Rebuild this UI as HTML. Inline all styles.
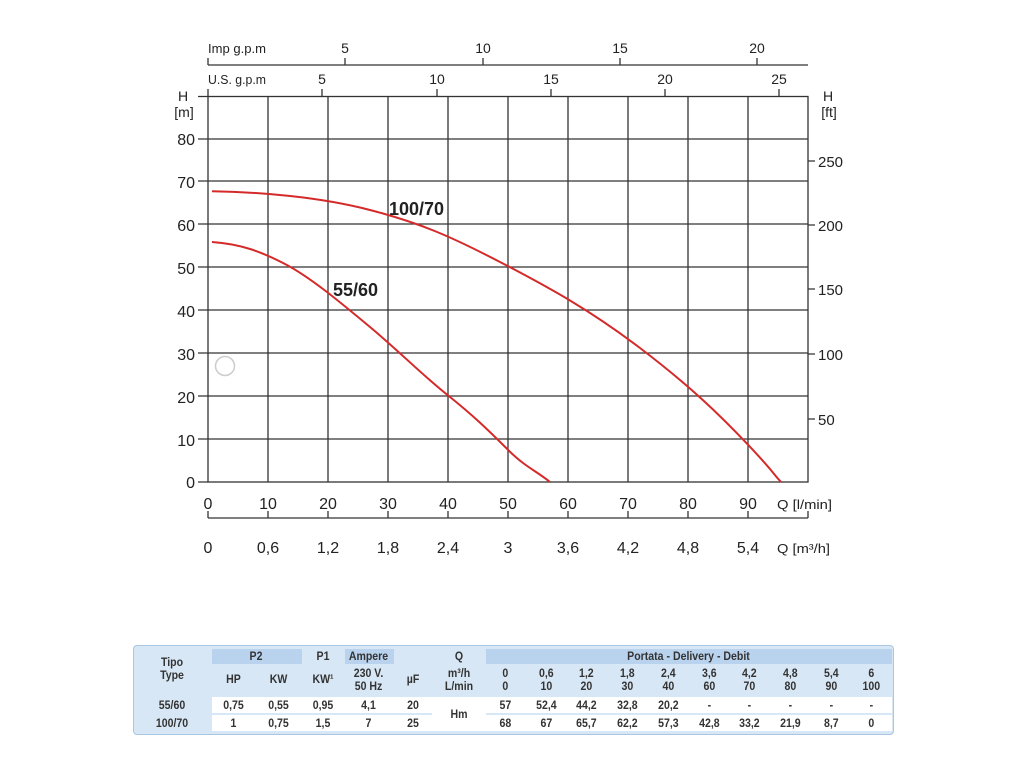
<!DOCTYPE html>
<html><head><meta charset="utf-8"><style>
body{margin:0;background:#fff;width:1024px;height:768px;overflow:hidden;font-family:"Liberation Sans",sans-serif}
svg{position:absolute;left:0;top:0}
.tbl{position:absolute;left:133px;top:645px;width:759px;height:88px;background:#d8e7f5;border-radius:4px;border:1px solid #a9c6e2}
.c{position:absolute;text-align:center;font:bold 12px/13px "Liberation Sans",sans-serif;color:#333;transform:scaleX(.88)}
.w{position:absolute;background:#fff}
.h{position:absolute;background:#b9d3ee}
</style></head><body>
<svg width="1024" height="640" font-family="Liberation Sans, sans-serif" fill="#222">
<g stroke="#333" stroke-width="1.3" fill="none">
<rect x="208" y="96.5" width="600" height="385.5"/>
<path d="M268 96V482M328 96V482M388 96V482M448 96V482M508 96V482M568 96V482M628 96V482M688 96V482M748 96V482"/>
<path d="M198 439H808M198 396H808M198 353H808M198 310H808M198 267H808M198 224H808M198 181H808M198 139H808M198 482H208M198 96.5H208"/>
<path d="M808 161H815M808 225H815M808 289H815M808 354H815M808 419H815"/>
<path d="M208 65H808M208 58V65M345 58V65M483 58V65M620 58V65M757 58V65"/>
<path d="M208 89V97M322 89V97M437 89V97M551 89V97M665 89V97M779 89V97"/>
<path d="M208 518H808M208 511V518M268 511V518M328 511V518M388 511V518M448 511V518M508 511V518M568 511V518M628 511V518M688 511V518M748 511V518M808 511V518"/>
</g>
<g font-size="14">
<text x="208" y="53" font-size="13" textLength="58" lengthAdjust="spacingAndGlyphs">Imp g.p.m</text>
<text x="345" y="53" text-anchor="middle">5</text><text x="483" y="53" text-anchor="middle">10</text><text x="620" y="53" text-anchor="middle">15</text><text x="757" y="53" text-anchor="middle">20</text>
<text x="208" y="84" font-size="13" textLength="58" lengthAdjust="spacingAndGlyphs">U.S. g.p.m</text>
<text x="322" y="84" text-anchor="middle">5</text><text x="437" y="84" text-anchor="middle">10</text><text x="551" y="84" text-anchor="middle">15</text><text x="665" y="84" text-anchor="middle">20</text><text x="779" y="84" text-anchor="middle">25</text>
<text x="183" y="101" text-anchor="middle">H</text><text x="184" y="117" text-anchor="middle">[m]</text>
<text x="828" y="101" text-anchor="middle">H</text><text x="829" y="117" text-anchor="middle">[ft]</text>
</g>
<g font-size="16" text-anchor="end">
<text x="195" y="145">80</text><text x="195" y="188">70</text><text x="195" y="231">60</text><text x="195" y="274">50</text><text x="195" y="317">40</text><text x="195" y="360">30</text><text x="195" y="403">20</text><text x="195" y="446">10</text><text x="195" y="488">0</text>
</g>
<g font-size="15">
<text x="818" y="167">250</text><text x="818" y="231">200</text><text x="818" y="295">150</text><text x="818" y="360">100</text><text x="818" y="425">50</text>
</g>
<g font-size="16" text-anchor="middle">
<text x="208" y="509">0</text><text x="268" y="509">10</text><text x="328" y="509">20</text><text x="388" y="509">30</text><text x="448" y="509">40</text><text x="508" y="509">50</text><text x="568" y="509">60</text><text x="628" y="509">70</text><text x="688" y="509">80</text><text x="748" y="509">90</text>
<text x="208" y="553">0</text><text x="268" y="553">0,6</text><text x="328" y="553">1,2</text><text x="388" y="553">1,8</text><text x="448" y="553">2,4</text><text x="508" y="553">3</text><text x="568" y="553">3,6</text><text x="628" y="553">4,2</text><text x="688" y="553">4,8</text><text x="748" y="553">5,4</text>
</g>
<text x="777" y="509" font-size="13" textLength="55" lengthAdjust="spacingAndGlyphs">Q [l/min]</text>
<text x="777" y="553" font-size="13" textLength="53" lengthAdjust="spacingAndGlyphs">Q [m³/h]</text>
<g fill="none" stroke="#d42a2a" stroke-width="2" stroke-linejoin="round">
<path d="M212,242 C240,244 260,251 285,264 S340,302 370,327 S420,373 448,395.4 S490,432 508,449.8 S535,470 550,482"/>
<path d="M212,191.3 C260,192 320,197 370,210 S450,236 500,262 S590,310 640,348 S720,415 748,444.7 S770,470 781,482"/>
</g>
<text x="389" y="215" font-size="18" font-weight="bold">100/70</text>
<text x="333" y="296" font-size="18" font-weight="bold">55/60</text>
<circle cx="225" cy="366" r="9.5" fill="none" stroke="#ccc" stroke-width="1.5"/>
</svg>
<div class="tbl">
<div class="h" style="left:78px;top:3px;width:90px;height:15px"></div>
<div class="h" style="left:211px;top:3px;width:49px;height:15px"></div>
<div class="h" style="left:352px;top:3px;width:406px;height:15px"></div>
<div class="w" style="left:78px;top:51px;width:220px;height:16px"></div>
<div class="w" style="left:352px;top:51px;width:406px;height:16px"></div>
<div class="w" style="left:78px;top:69px;width:680px;height:16px"></div>
<div class="w" style="left:298px;top:51px;width:54px;height:34px"></div>
</div>
<div style="position:absolute;left:0;top:0">
<div class="c" style="left:133px;top:656px;width:78px">Tipo<br>Type</div>
<div class="c" style="left:211px;top:650px;width:90px">P2</div>
<div class="c" style="left:302px;top:650px;width:42px">P1</div>
<div class="c" style="left:344px;top:650px;width:49px">Ampere</div>
<div class="c" style="left:433px;top:650px;width:52px">Q</div>
<div class="c" style="left:485px;top:650px;width:407px">Portata - Delivery - Debit</div>
<div class="c" style="left:211px;top:673px;width:45px">HP</div>
<div class="c" style="left:256px;top:673px;width:45px">KW</div>
<div class="c" style="left:302px;top:673px;width:42px">KW¹</div>
<div class="c" style="left:344px;top:667px;width:49px">230 V.<br>50 Hz</div>
<div class="c" style="left:393px;top:673px;width:40px">µF</div>
<div class="c" style="left:433px;top:667px;width:52px">m³/h<br>L/min</div>
<div class="c" style="left:133px;top:699px;width:78px">55/60</div>
<div class="c" style="left:133px;top:717px;width:78px">100/70</div>
<div class="c" style="left:211px;top:699px;width:45px">0,75</div><div class="c" style="left:256px;top:699px;width:45px">0,55</div><div class="c" style="left:302px;top:699px;width:42px">0,95</div><div class="c" style="left:344px;top:699px;width:49px">4,1</div><div class="c" style="left:393px;top:699px;width:40px">20</div>
<div class="c" style="left:211px;top:717px;width:45px">1</div><div class="c" style="left:256px;top:717px;width:45px">0,75</div><div class="c" style="left:302px;top:717px;width:42px">1,5</div><div class="c" style="left:344px;top:717px;width:49px">7</div><div class="c" style="left:393px;top:717px;width:40px">25</div>
<div class="c" style="left:433px;top:708px;width:52px">Hm</div>
</div>
<div style="position:absolute;left:485px;top:667px;width:407px;display:flex">
<div class="c" style="position:relative;flex:1">0<br>0</div><div class="c" style="position:relative;flex:1">0,6<br>10</div><div class="c" style="position:relative;flex:1">1,2<br>20</div><div class="c" style="position:relative;flex:1">1,8<br>30</div><div class="c" style="position:relative;flex:1">2,4<br>40</div><div class="c" style="position:relative;flex:1">3,6<br>60</div><div class="c" style="position:relative;flex:1">4,2<br>70</div><div class="c" style="position:relative;flex:1">4,8<br>80</div><div class="c" style="position:relative;flex:1">5,4<br>90</div><div class="c" style="position:relative;flex:1">6<br>100</div>
</div>
<div style="position:absolute;left:485px;top:699px;width:407px;display:flex">
<div class="c" style="position:relative;flex:1">57</div><div class="c" style="position:relative;flex:1">52,4</div><div class="c" style="position:relative;flex:1">44,2</div><div class="c" style="position:relative;flex:1">32,8</div><div class="c" style="position:relative;flex:1">20,2</div><div class="c" style="position:relative;flex:1">-</div><div class="c" style="position:relative;flex:1">-</div><div class="c" style="position:relative;flex:1">-</div><div class="c" style="position:relative;flex:1">-</div><div class="c" style="position:relative;flex:1">-</div>
</div>
<div style="position:absolute;left:485px;top:717px;width:407px;display:flex">
<div class="c" style="position:relative;flex:1">68</div><div class="c" style="position:relative;flex:1">67</div><div class="c" style="position:relative;flex:1">65,7</div><div class="c" style="position:relative;flex:1">62,2</div><div class="c" style="position:relative;flex:1">57,3</div><div class="c" style="position:relative;flex:1">42,8</div><div class="c" style="position:relative;flex:1">33,2</div><div class="c" style="position:relative;flex:1">21,9</div><div class="c" style="position:relative;flex:1">8,7</div><div class="c" style="position:relative;flex:1">0</div>
</div>
</body></html>
